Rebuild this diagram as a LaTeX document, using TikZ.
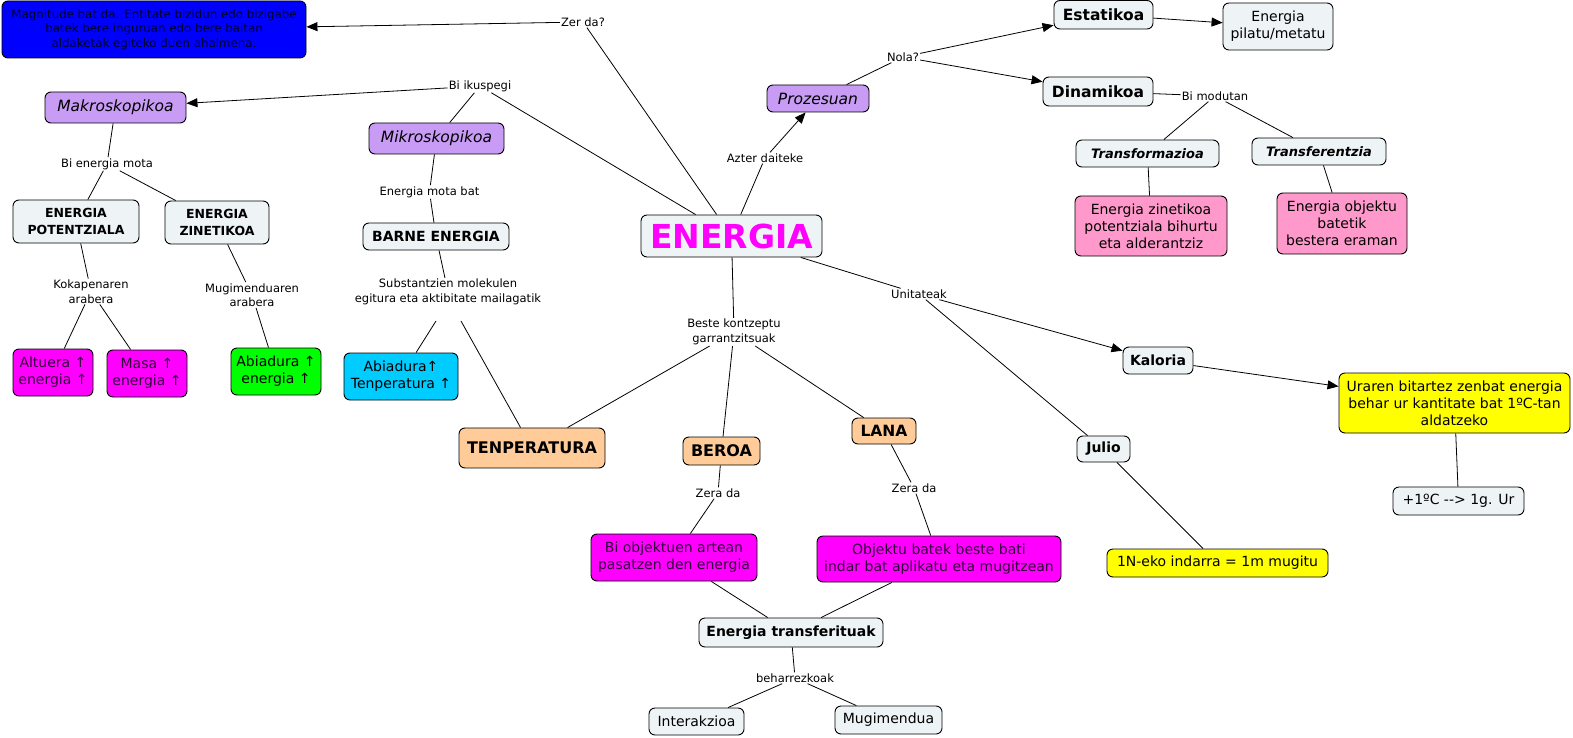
\documentclass[tikz,border=0pt]{standalone}
\usepackage{fontspec}
\setmainfont{DejaVu Sans}
\usetikzlibrary{arrows.meta}
\definecolor{cgray}{RGB}{238,243,245}
\definecolor{clav}{RGB}{200,155,245}
\definecolor{cpeach}{RGB}{255,204,153}
\definecolor{cpink}{RGB}{255,153,204}
\definecolor{cmag}{RGB}{255,0,255}
\definecolor{cgreen}{RGB}{0,255,0}
\definecolor{csky}{RGB}{0,204,255}
\definecolor{cyel}{RGB}{255,255,0}
\definecolor{cblue}{RGB}{0,0,255}
\definecolor{cmagtext}{RGB}{50,0,60}
\definecolor{cbluetext}{RGB}{0,0,40}
\tikzset{
  nd/.style={draw=black, line width=0.9pt, rounded corners=6pt, align=center, inner sep=2pt, text=black},
  lbl/.style={inner sep=1pt, align=center, font=\fontsize{11.5}{14.5}\selectfont},
  txt/.style={font=\fontsize{14}{17}\selectfont},
  hd/.style={font=\fontsize{15.5}{18}\selectfont\bfseries},
  ln/.style={line width=0.8pt, draw=black},
  arr/.style={ln, -{Triangle[length=11pt,width=9pt]}},
}
\begin{document}
\begin{tikzpicture}[x=1pt,y=-1pt]
\useasboundingbox (0,0) rectangle (1573,738);
% --- nodes ---
\node[nd, fill=cblue, text=cbluetext, minimum width=304pt, minimum height=57pt, font=\fontsize{11.8}{14.5}\selectfont] (blue) at (154,29.5) {Magnitude bat da. Entitate bizidun edo bizigabe\\batek bere inguruan edo bere baitan\\aldaketak egiteko duen ahalmena.};
\node[lbl] (zerda) at (583,22) {Zer da?};
\node[lbl] (biik) at (480,86) {Bi ikuspegi};
\node[nd, fill=clav, minimum width=141pt, minimum height=31pt, font=\fontsize{15.5}{18}\selectfont\itshape] (makro) at (115.5,107.5) {Makroskopikoa};
\node[nd, fill=clav, minimum width=135pt, minimum height=31pt, font=\fontsize{15.5}{18}\selectfont\itshape] (mikro) at (436.5,138.5) {Mikroskopikoa};
\node[lbl] (bienm) at (107,164) {Bi energia mota};
\node[nd, fill=cgray, minimum width=126pt, minimum height=43pt, font=\fontsize{12.5}{17}\selectfont\bfseries] (ep) at (76,221.5) {ENERGIA\\POTENTZIALA};
\node[nd, fill=cgray, minimum width=104pt, minimum height=43pt, font=\fontsize{12.5}{17}\selectfont\bfseries] (ez) at (217,222.5) {ENERGIA\\ZINETIKOA};
\node[lbl] (koka) at (91,291.5) {Kokapenaren\\arabera};
\node[lbl] (mugi) at (252,295) {Mugimenduaren\\arabera};
\node[nd, fill=cmag, text=cmagtext, txt, minimum width=80pt, minimum height=47pt] (altu) at (53,372.5) {Altuera ↑\\energia ↑};
\node[nd, fill=cmag, text=cmagtext, txt, minimum width=80pt, minimum height=47pt] (masa) at (147,373.5) {Masa ↑\\energia ↑};
\node[nd, fill=cgreen, txt, minimum width=90pt, minimum height=47pt] (green) at (276,371.5) {Abiadura ↑\\energia ↑};
\node[lbl] (enmb) at (429.5,192) {Energia mota bat};
\node[nd, fill=cgray, minimum width=146pt, minimum height=27pt, font=\fontsize{14}{17}\selectfont\bfseries] (barne) at (436,236.5) {BARNE ENERGIA};
\node[lbl] (subs) at (448,292) {Substantzien molekulen\\egitura eta aktibitate mailagatik};
\coordinate (subl) at (436,321);
\coordinate (subr) at (461,321);
\node[nd, fill=csky, txt, minimum width=114pt, minimum height=47pt] (skyb) at (401,376.5) {Abiadura↑\\Tenperatura ↑};
\node[nd, fill=cpeach, minimum width=146pt, minimum height=40pt, font=\fontsize{16}{19}\selectfont\bfseries] (tenp) at (532,448) {TENPERATURA};
\node[nd, fill=cgray, text=cmag, minimum width=181pt, minimum height=42pt, font=\fontsize{33}{38}\selectfont\bfseries] (energia) at (731.5,236) {ENERGIA};
\node[lbl] (azter) at (765,158) {Azter daiteke};
\node[nd, fill=clav, minimum width=102pt, minimum height=27pt, font=\fontsize{15.5}{18}\selectfont\itshape] (proz) at (818,98.5) {Prozesuan};
\node[lbl] (nola) at (903,57) {Nola?};
\node[nd, fill=cgray, hd, minimum width=99pt, minimum height=28.5pt] (estat) at (1103.5,14.75) {Estatikoa};
\node[nd, fill=cgray, txt, minimum width=110pt, minimum height=47pt] (pilatu) at (1278,26.5) {Energia\\pilatu/metatu};
\node[nd, fill=cgray, hd, minimum width=110pt, minimum height=29pt] (dinam) at (1098,91.5) {Dinamikoa};
\node[lbl] (bimod) at (1215,96) {Bi modutan};
\node[nd, fill=cgray, minimum width=143pt, minimum height=27pt, font=\fontsize{13}{16}\selectfont\bfseries\itshape] (transf) at (1147.5,153.5) {Transformazioa};
\node[nd, fill=cgray, minimum width=134pt, minimum height=27pt, font=\fontsize{13}{16}\selectfont\bfseries\itshape] (transfer) at (1319,151.5) {Transferentzia};
\node[nd, fill=cpink, txt, minimum width=152pt, minimum height=60pt] (pink1) at (1151,226) {Energia zinetikoa\\potentziala bihurtu\\eta alderantziz};
\node[nd, fill=cpink, txt, minimum width=130pt, minimum height=61pt] (pink2) at (1342,223.5) {Energia objektu\\batetik\\bestera eraman};
\node[lbl] (unit) at (919,294) {Unitateak};
\node[lbl] (beste) at (734,332) {Beste kontzeptu\\garrantzitsuak};
\node[nd, fill=cgray, minimum width=70pt, minimum height=27pt, font=\fontsize{14}{17}\selectfont\bfseries] (kalo) at (1158,360.5) {Kaloria};
\node[nd, fill=cyel, txt, minimum width=231pt, minimum height=60pt] (uraren) at (1454.5,403) {Uraren bitartez zenbat energia\\behar ur kantitate bat 1ºC-tan\\aldatzeko};
\node[nd, fill=cgray, txt, minimum width=131pt, minimum height=28pt] (plus1) at (1458.5,501) {+1ºC -\kern0pt-\kern0pt> 1g. Ur};
\node[nd, fill=cgray, minimum width=53pt, minimum height=26pt, font=\fontsize{14}{17}\selectfont\bfseries] (julio) at (1103.5,449) {Julio};
\node[nd, fill=cyel, txt, minimum width=221pt, minimum height=28pt] (newton) at (1217.5,563) {1N-eko indarra = 1m mugitu};
\node[nd, fill=cpeach, minimum width=77pt, minimum height=28pt, font=\fontsize{16}{19}\selectfont\bfseries] (beroa) at (721.5,451) {BEROA};
\node[nd, fill=cpeach, minimum width=64pt, minimum height=26pt, font=\fontsize{15.5}{19}\selectfont\bfseries] (lana) at (884,431) {LANA};
\node[lbl] (zb) at (718,493) {Zera da};
\node[lbl] (zl) at (914,488) {Zera da};
\node[nd, fill=cmag, text=cmagtext, txt, minimum width=166pt, minimum height=47pt] (biobj) at (674,557.5) {Bi objektuen artean\\pasatzen den energia};
\node[nd, fill=cmag, text=cmagtext, txt, minimum width=244pt, minimum height=46pt] (objek) at (939,559) {Objektu batek beste bati\\indar bat aplikatu eta mugitzean};
\node[nd, fill=cgray, minimum width=184pt, minimum height=29pt, font=\fontsize{14}{17}\selectfont\bfseries] (entr) at (791,632.5) {Energia transferituak};
\node[lbl] (behar) at (795,678) {beharrezkoak};
\node[nd, fill=cgray, txt, minimum width=95pt, minimum height=27pt] (inter) at (696.5,721.5) {Interakzioa};
\node[nd, fill=cgray, txt, minimum width=107pt, minimum height=28pt] (mugim) at (888.5,720) {Mugimendua};
% --- connectors ---
\draw[ln] (energia) -- (zerda);
\draw[arr] (zerda) -- (blue);
\draw[ln] (energia) -- (biik);
\draw[arr] (biik) -- (makro);
\draw[ln] (biik) -- (mikro);
\draw[ln] (makro) -- (bienm);
\draw[ln] (bienm) -- (ep);
\draw[ln] (bienm) -- (ez);
\draw[ln] (ep) -- (koka);
\draw[ln] (koka) -- (altu);
\draw[ln] (koka) -- (masa);
\draw[ln] (ez) -- (mugi);
\draw[ln] (mugi) -- (green);
\draw[ln] (mikro) -- (enmb);
\draw[ln] (enmb) -- (barne);
\draw[ln] (barne) -- (subs);
\draw[ln] (subl) -- (skyb);
\draw[ln] (subr) -- (tenp);
\draw[ln] (energia) -- (azter);
\draw[arr] (azter) -- (proz);
\draw[ln] (proz) -- (nola);
\draw[arr] (nola) -- (estat);
\draw[arr] (nola) -- (dinam);
\draw[arr] (estat) -- (pilatu);
\draw[ln] (dinam) -- (bimod);
\draw[ln] (bimod) -- (transf);
\draw[ln] (bimod) -- (transfer);
\draw[ln] (transf) -- (pink1);
\draw[ln] (transfer) -- (pink2);
\draw[ln] (energia) -- (unit);
\draw[arr] (unit) -- (kalo);
\draw[ln] (unit) -- (julio);
\draw[arr] (kalo) -- (uraren);
\draw[ln] (uraren) -- (plus1);
\draw[ln] (julio) -- (newton);
\draw[ln] (energia) -- (beste);
\draw[ln] (beste) -- (tenp);
\draw[ln] (beste) -- (beroa);
\draw[ln] (beste) -- (lana);
\draw[ln] (beroa) -- (zb);
\draw[ln] (zb) -- (biobj);
\draw[ln] (lana) -- (zl);
\draw[ln] (zl) -- (objek);
\draw[ln] (biobj) -- (entr);
\draw[ln] (objek) -- (entr);
\draw[ln] (entr) -- (behar);
\draw[ln] (behar) -- (inter);
\draw[ln] (behar) -- (mugim);
\end{tikzpicture}
\end{document}
